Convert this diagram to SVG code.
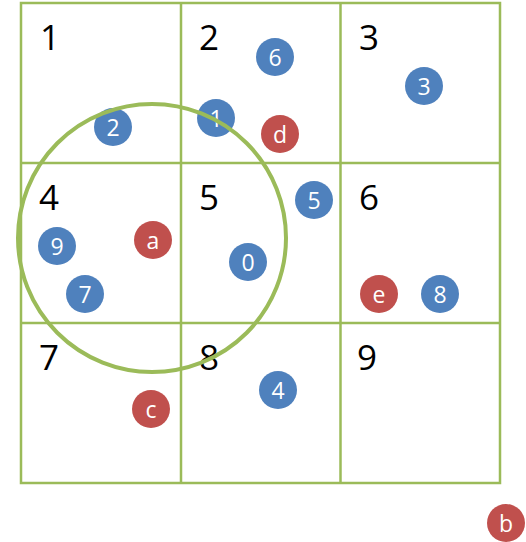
<svg xmlns="http://www.w3.org/2000/svg" width="526" height="542" viewBox="0 0 526 542">
<style>
.grid{fill:none;stroke:#9BBB59;stroke-width:2.5}
.lbl{font-family:"Open Sans","Liberation Sans",sans-serif;font-size:35px;fill:#000}
.nb{fill:#4F81BD}
.nr{fill:#C0504D}
.nt{font-family:"Open Sans","Liberation Sans",sans-serif;font-size:23px;fill:#fff;text-anchor:middle;dominant-baseline:central}
.ring{fill:none;stroke:#9BBB59;stroke-width:4}
</style>
<rect width="526" height="542" fill="#fff"/>
<g id="grid">
<rect class="grid" x="21" y="3" width="479" height="480"/>
<line class="grid" x1="181" y1="3" x2="181" y2="483"/>
<line class="grid" x1="340.5" y1="3" x2="340.5" y2="483"/>
<line class="grid" x1="21" y1="163" x2="500" y2="163"/>
<line class="grid" x1="21" y1="323" x2="500" y2="323"/>
</g>
<g id="cell-labels">
<text class="lbl" x="40" y="50">1</text>
<text class="lbl" x="199" y="50">2</text>
<text class="lbl" x="359" y="50">3</text>
<text class="lbl" x="39" y="210">4</text>
<text class="lbl" x="199" y="210">5</text>
<text class="lbl" x="359" y="210">6</text>
<text class="lbl" x="39" y="370">7</text>
<text class="lbl" x="199" y="370">8</text>
<text class="lbl" x="357" y="370">9</text>
</g>
<g id="n2"><circle class="nb" cx="113" cy="127" r="19"/><text class="nt" x="113" y="127">2</text></g>
<g id="n1"><circle class="nb" cx="216" cy="118" r="19"/><text class="nt" x="216" y="118">1</text></g>
<g id="n6"><circle class="nb" cx="275" cy="57" r="19"/><text class="nt" x="275" y="57">6</text></g>
<g id="nd"><circle class="nr" cx="280" cy="134" r="19"/><text class="nt" x="280" y="134">d</text></g>
<g id="n3"><circle class="nb" cx="424" cy="86" r="19"/><text class="nt" x="424" y="86">3</text></g>
<g id="n9"><circle class="nb" cx="57" cy="246" r="19"/><text class="nt" x="57" y="246">9</text></g>
<g id="na"><circle class="nr" cx="153" cy="240" r="19"/><text class="nt" x="153" y="240">a</text></g>
<g id="n7"><circle class="nb" cx="85" cy="294" r="19"/><text class="nt" x="85" y="294">7</text></g>
<g id="n0"><circle class="nb" cx="248" cy="262" r="19"/><text class="nt" x="248" y="262">0</text></g>
<g id="n5"><circle class="nb" cx="314" cy="200" r="19"/><text class="nt" x="314" y="200">5</text></g>
<g id="ne"><circle class="nr" cx="379" cy="294" r="19"/><text class="nt" x="379" y="294">e</text></g>
<g id="n8"><circle class="nb" cx="440" cy="294" r="19"/><text class="nt" x="440" y="294">8</text></g>
<g id="nc"><circle class="nr" cx="151" cy="409" r="19"/><text class="nt" x="151" y="409">c</text></g>
<g id="n4"><circle class="nb" cx="278" cy="390" r="19"/><text class="nt" x="278" y="390">4</text></g>
<g id="nb"><circle class="nr" cx="506" cy="523" r="19"/><text class="nt" x="506" y="523">b</text></g>
<g id="range"><circle class="ring" cx="152" cy="238" r="134"/></g>
</svg>
